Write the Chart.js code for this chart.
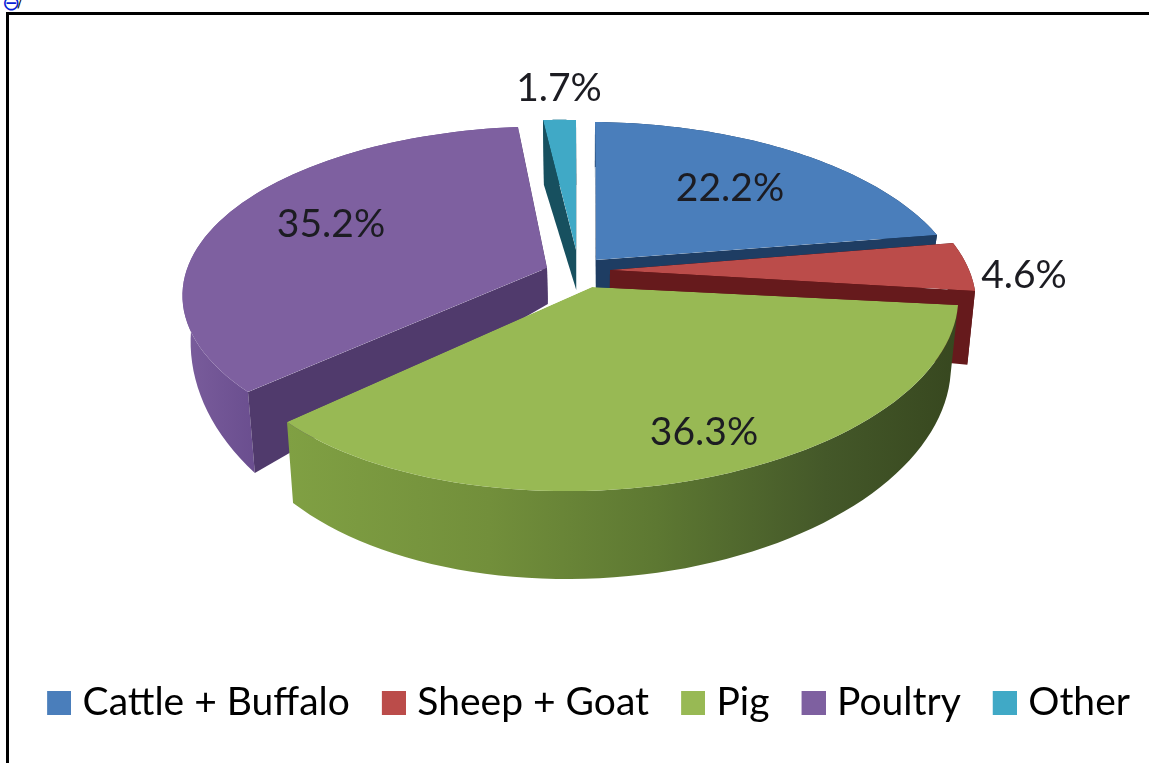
<!DOCTYPE html>
<html><head><meta charset="utf-8">
<style>
html,body{margin:0;padding:0;background:#fff;width:1149px;height:763px;overflow:hidden}
#frame{position:absolute;left:6px;top:12px;width:2000px;height:2000px;border:3px solid #000;box-sizing:border-box}
#wrap{position:absolute;left:0;top:0;width:1149px;height:763px}
#icon{position:absolute;left:2px;top:-9px;font:22px/24px "DejaVu Sans";color:#0a1fd8;white-space:nowrap}
#icon i{font-style:normal;color:#000;font-size:13px;margin-left:-3px;vertical-align:3px}
</style>
<script src="https://cdn.jsdelivr.net/npm/chart.js@4/dist/chart.umd.min.js"></script>
</head><body>
<div id="icon">⊖<i>/</i></div>
<div id="frame"></div>
<div id="wrap"><canvas id="c" width="1149" height="763"></canvas></div>
<script>
const categories = ['Cattle + Buffalo','Sheep + Goat','Pig','Poultry','Other'];
const shares = [22.2,4.6,36.3,35.2,1.7];
const topColors = ['#4a7ebb','#bb4c4a','#98b954','#7e60a0','#40a9c6'];
const faceColors = ['#1e3d63','#661a1c','#5a7430','#503a6c','#17505f'];
const paintOrder = [4,0,3,1,2];
// projected apex / rim-start / rim-end of each exploded slice
const anchors = [
 [[596,260],[595,122],[937,235]],
 [[610,270],[953,243],[975,291]],
 [[592,287],[958,305],[287,422]],
 [[547,268],[248,392],[518,127]],
 [[576,250],[543,120],[576,120]]
];
const depthRefs = [
 [260,45,235,45],[270,60,290,73],[305,69,492,88],[268,36,392,81],[120,65,250,40]
];
const labelSpots = [[730,188],[1024,275],[704,432],[331,224],[559,88]];
// camera: perspective strength per slice, vertical squash
const perspectives = [0.22,0.22,0.12,0.16,0.22];
const squash = 0.45;
const legendShift = 8;

function model(t,p){
  const X=Math.sin(t),Y=-Math.cos(t),w=1/(1-p*Y);
  return [X*w,squash*Y*w];
}
function fit(src,dst){ // affine through three point pairs
  const [a,b,c]=src,[A,B,C]=dst;
  const ux=b[0]-a[0],uy=b[1]-a[1],vx=c[0]-a[0],vy=c[1]-a[1],det=ux*vy-uy*vx;
  const m=i=>{
    const p=B[i]-A[i],q=C[i]-A[i];
    const e=(p*vy-q*uy)/det,f=(q*ux-p*vx)/det;
    return [e,f,A[i]-e*a[0]-f*a[1]];
  };
  const mx=m(0),my=m(1);
  return p=>[mx[0]*p[0]+mx[1]*p[1]+mx[2],my[0]*p[0]+my[1]*p[1]+my[2]];
}
function basis(k,a0,a1){
  const [A,P,Q]=anchors[k];
  const s0=Math.sin(a0),c0=-Math.cos(a0),s1=Math.sin(a1),c1=-Math.cos(a1);
  const det=s0*c1-s1*c0;
  const px=P[0]-A[0],py=P[1]-A[1],qx=Q[0]-A[0],qy=Q[1]-A[1];
  return {A,U:[(c1*px-c0*qx)/det,(c1*py-c0*qy)/det],V:[(s0*qx-s1*px)/det,(s0*qy-s1*py)/det]};
}
function depthAt(k,y){
  const [y0,d0,y1,d1]=depthRefs[k];
  return Math.max(12,d0+(d1-d0)*(y-y0)/(y1-y0));
}
function lower(k,p){
  return [p[0]+(590-p[0])*0.02,p[1]+depthAt(k,p[1])];
}
function trace(ctx,pts){
  ctx.beginPath();pts.forEach((p,i)=>i?ctx.lineTo(p[0],p[1]):ctx.moveTo(p[0],p[1]));ctx.closePath();
}
function poly(ctx,pts,fill){
  trace(ctx,pts);ctx.fillStyle=fill;ctx.fill();
}
function wallFill(ctx,k){
  if(k===2){
    const g=ctx.createLinearGradient(287,0,960,0);
    g.addColorStop(0,'#80a043');g.addColorStop(.3,'#728f3b');g.addColorStop(.55,'#5d7832');g.addColorStop(.8,'#445829');g.addColorStop(1,'#37471f');
    return g;
  }
  if(k===3){
    const g=ctx.createLinearGradient(183,0,260,0);
    g.addColorStop(0,'#7a5d9c');g.addColorStop(1,'#694d8e');
    return g;
  }
  return faceColors[k];
}
const pie3d={
  id:'pie3d',
  afterLayout(chart){
    chart.legend.left+=legendShift;chart.legend.right+=legendShift;
  },
  beforeDatasetsDraw(chart){
    const ctx=chart.ctx,arcs=chart.getDatasetMeta(0).data;
    paintOrder.forEach(k=>{
      const el=arcs[k],a0=el.startAngle+Math.PI/2,a1=el.endAngle+Math.PI/2,pk=perspectives[k];
      const [A,P,Q]=anchors[k];
      const warp=fit([[0,0],model(a0,pk),model(a1,pk)],[A,P,Q]);
      const rim=[];
      for(let i=0;i<=64;i++) rim.push(warp(model(a0+(a1-a0)*i/64,pk)));
      poly(ctx,rim.concat(rim.map(p=>lower(k,p)).reverse()),wallFill(ctx,k));
      const f=faceColors[k];
      if(k!==2){
        poly(ctx,[A,rim[0],lower(k,rim[0]),lower(k,A)],f);
        poly(ctx,[A,rim[64],lower(k,rim[64]),lower(k,A)],f);
      }
      // the slice itself: the library's arc, oversized along its own edges and trimmed to the perspective rim
      const {U,V}=basis(k,a0,a1);
      const R=el.outerRadius/1.8,x=el.x,y=el.y;
      ctx.save();
      trace(ctx,[A].concat(rim));ctx.clip();
      ctx.transform(U[0]/R,U[1]/R,V[0]/R,V[1]/R,A[0]-(U[0]*x+V[0]*y)/R,A[1]-(U[1]*x+V[1]*y)/R);
      el.draw(ctx);
      ctx.restore();
    });
    return false;
  },
  afterDraw(chart){
    const ctx=chart.ctx;
    ctx.save();
    ctx.font='39px Lato';ctx.fillStyle='#1c1c22';ctx.textAlign='center';ctx.textBaseline='middle';
    shares.forEach((v,i)=>ctx.fillText(v.toFixed(1)+'%',labelSpots[i][0],labelSpots[i][1]));
    ctx.restore();
  }
};
function swatch(color){
  const c=document.createElement('canvas');c.width=44;c.height=24;
  const g=c.getContext('2d');g.fillStyle=color;g.fillRect(20,0,24,24);
  return c;
}
new Chart(document.getElementById('c'),{
  type:'pie',
  data:{labels:categories,datasets:[{data:shares,backgroundColor:topColors,borderWidth:0}]},
  options:{
    responsive:false,animation:false,
    events:[],
    layout:{padding:{left:0,right:0,top:0,bottom:31}},
    plugins:{
      tooltip:{enabled:false},
      legend:{
        position:'bottom',
        labels:{
          usePointStyle:true,pointStyleWidth:28,
          font:{family:'Lato',size:39},color:'#1c1c22',padding:20,
          generateLabels(chart){
            return categories.map((t,i)=>({text:t,fillStyle:topColors[i],strokeStyle:topColors[i],lineWidth:0,pointStyle:swatch(topColors[i]),hidden:false,index:i}));
          }
        }
      }
    }
  },
  plugins:[pie3d]
});
</script>
</body></html>
